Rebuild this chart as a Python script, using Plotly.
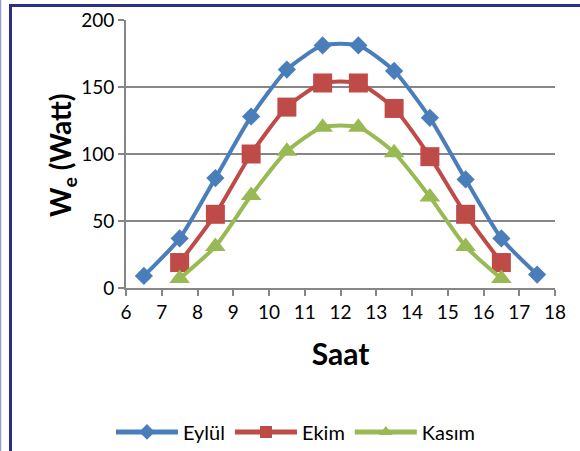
import plotly.graph_objects as go

hours_eylul = [6.5, 7.5, 8.5, 9.5, 10.5, 11.5, 12.5, 13.5, 14.5, 15.5, 16.5, 17.5]
eylul = [9, 37, 82, 128, 163, 181, 181, 162, 127, 81, 37, 10]
hours_ekim = [7.5, 8.5, 9.5, 10.5, 11.5, 12.5, 13.5, 14.5, 15.5, 16.5]
ekim = [19, 55, 100, 135, 153, 153, 134, 98, 55, 19]
hours_kasim = [7.5, 8.5, 9.5, 10.5, 11.5, 12.5, 13.5, 14.5, 15.5, 16.5]
kasim = [7, 31, 69, 102, 120, 120, 101, 68, 31, 7]
x_ticks = list(range(6, 19))
y_ticks = [0, 50, 100, 150, 200]

FONT = "Lato"
fig = go.Figure()
fig.add_trace(go.Scatter(x=hours_eylul, y=eylul, name="Eylül", mode="lines+markers",
                         line=dict(color="#4A7EBB", width=4, shape="spline", smoothing=0.6),
                         marker=dict(symbol="diamond", size=14, color="#4A7EBB")))
fig.add_trace(go.Scatter(x=hours_ekim, y=ekim, name="Ekim", mode="lines+markers",
                         line=dict(color="#BE4B48", width=4, shape="spline", smoothing=0.6),
                         marker=dict(symbol="square", size=19, color="#BE4B48")))
fig.add_trace(go.Scatter(x=hours_kasim, y=kasim, name="Kasım", mode="lines+markers",
                         line=dict(color="#98B954", width=4, shape="spline", smoothing=0.6),
                         marker=dict(symbol="triangle-up", size=18, color="#98B954")))

axis_gray = "#868686"
W, L = 429.0, 126.0
H, B = 268.0, 288.0
def px(x):
    return (x - L) / W
def py(y):
    return (B - y) / H

fig.update_layout(
    width=580, height=451,
    margin=dict(l=126, r=25, t=20, b=163, autoexpand=False),
    paper_bgcolor="white", plot_bgcolor="white",
    font=dict(family=FONT, color="black", size=16),
    showlegend=True,
    legend=dict(orientation="h", x=0.395, xanchor="center", y=-0.537, yanchor="middle",
                font=dict(size=20, family=FONT), itemwidth=62, traceorder="normal",
                itemsizing="constant"),
    xaxis=dict(range=[6, 18], tickvals=x_ticks, ticks="outside", ticklen=6, tickwidth=2,
               tickcolor=axis_gray, showline=True, linecolor=axis_gray, linewidth=2,
               showgrid=False, zeroline=False, tickfont=dict(size=19), automargin=False,
               title=dict(text="Saat", font=dict(size=30, weight="bold"), standoff=22)),
    yaxis=dict(range=[0, 200], tickvals=y_ticks, ticks="outside", ticklen=6, tickwidth=2,
               tickcolor=axis_gray, showline=True, linecolor=axis_gray, linewidth=2,
               showgrid=True, gridcolor=axis_gray, gridwidth=2, zeroline=False,
               tickfont=dict(size=19), automargin=False),
)
fig.add_annotation(text="W<sub>e</sub> (Watt)", textangle=-90, xref="paper", yref="paper",
                   x=px(62), y=py(155), xanchor="center", yanchor="middle", showarrow=False,
                   font=dict(size=28, weight="bold", family=FONT, color="black"))

# frame lines
fig.add_shape(type="line", xref="paper", yref="paper", x0=px(10.5), x1=px(10.5), y0=py(5), y1=py(460),
              line=dict(color="#2E2E8A", width=3))
fig.add_shape(type="line", xref="paper", yref="paper", x0=px(9), x1=px(590), y0=py(5.5), y1=py(5.5),
              line=dict(color="#2E2E8A", width=3))
fig.add_shape(type="line", xref="paper", yref="paper", x0=px(0.5), x1=px(0.5), y0=py(0), y1=py(460),
              line=dict(color="#9C9CCC", width=1.5))

fig.write_html("out.html", config={"displayModeBar": False},
               post_script="document.body.style.margin='0';document.body.style.overflow='hidden';")
